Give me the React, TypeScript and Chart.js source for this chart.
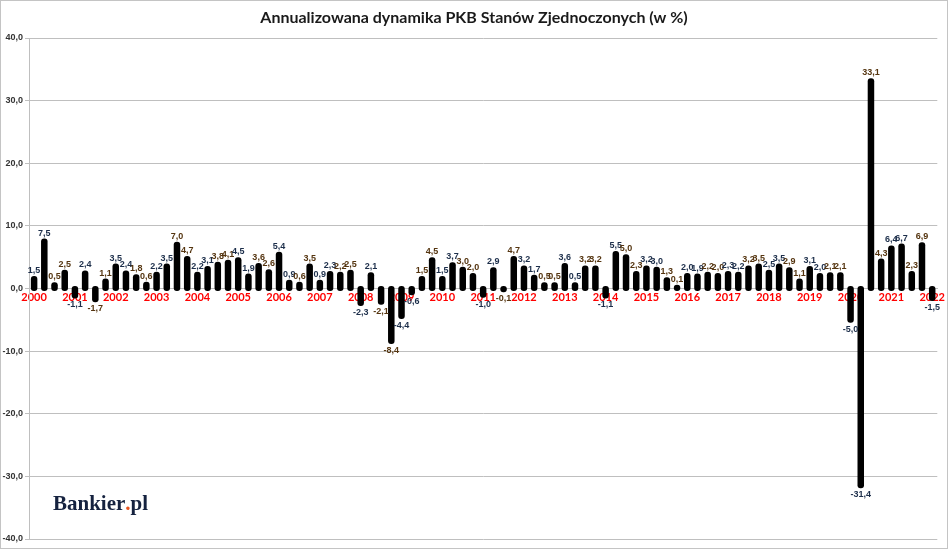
import React, { useEffect, useRef } from 'react';
import { Chart, registerables } from 'chart.js';

Chart.register(...registerables);

const chartTitle = 'Annualizowana dynamika PKB Stanów Zjednoczonych (w %)';
const yearLabels = [
  '2000', '2001', '2002', '2003', '2004', '2005', '2006', '2007', '2008', '2009', '2010', '2011',
  '2012', '2013', '2014', '2015', '2016', '2017', '2018', '2019', '2020', '2021', '2022',
];
const quarterNames = ['Q1', 'Q2', 'Q3', 'Q4'];
// Annualized quarterly GDP growth (%), 2000 Q1 .. 2022 Q1
const gdpGrowth = [
  1.5, 7.5, 0.5, 2.5,
  -1.1, 2.4, -1.7, 1.1,
  3.5, 2.4, 1.8, 0.6,
  2.2, 3.5, 7.0, 4.7,
  2.2, 3.1, 3.8, 4.1,
  4.5, 1.9, 3.6, 2.6,
  5.4, 0.9, 0.6, 3.5,
  0.9, 2.3, 2.2, 2.5,
  -2.3, 2.1, -2.1, -8.4,
  -4.4, -0.6, 1.5, 4.5,
  1.5, 3.7, 3.0, 2.0,
  -1.0, 2.9, -0.1, 4.7,
  3.2, 1.7, 0.5, 0.5,
  3.6, 0.5, 3.2, 3.2,
  -1.1, 5.5, 5.0, 2.3,
  3.2, 3.0, 1.3, 0.1,
  2.0, 1.9, 2.2, 2.0,
  2.3, 2.2, 3.2, 3.5,
  2.5, 3.5, 2.9, 1.1,
  3.1, 2.0, 2.1, 2.1,
  -5.0, -31.4, 33.1, 4.3,
  6.4, 6.7, 2.3, 6.9,
  -1.5,
];
const yTicks = [-40, -30, -20, -10, 0, 10, 20, 30, 40];

const categories: string[] = [];
yearLabels.forEach((y) => quarterNames.forEach((q) => categories.push(y + ' ' + q)));
categories.length = gdpGrowth.length;

const fmt = (v: number) => v.toFixed(1).replace('.', ',');

const EXT = 3; // rounded cap extension beyond the bar ends (px)

const labelPlugin = {
  id: 'extras',
  afterDatasetsDraw(chart: any) {
    const { ctx } = chart;
    const meta = chart.getDatasetMeta(0);
    ctx.save();
    // rounded "outline" look of the bars
    ctx.fillStyle = '#000000';
    meta.data.forEach((bar: any) => {
      const top = Math.min(bar.y, bar.base) - EXT;
      const bottom = Math.max(bar.y, bar.base) + EXT;
      const w = bar.width + 1.4;
      ctx.beginPath();
      (ctx as any).roundRect(bar.x - w / 2, top, w, bottom - top, 3);
      ctx.fill();
    });
    ctx.font = 'bold 9px "Liberation Sans", Arial, sans-serif';
    ctx.textAlign = 'center';
    meta.data.forEach((bar: any, i: number) => {
      const v = gdpGrowth[i];
      const q = i % 4;
      ctx.fillStyle = q < 2 ? '#1c2e4a' : '#553510';
      if (v >= 0) {
        ctx.textBaseline = 'bottom';
        ctx.fillText(fmt(v), bar.x, bar.y - EXT - 1);
      } else {
        ctx.textBaseline = 'top';
        ctx.fillText(fmt(v), bar.x, bar.y + EXT + 2);
      }
    });
    ctx.restore();
  },
  afterDraw(chart: any) {
    const { ctx } = chart;
    ctx.save();
    ctx.fillStyle = '#1a1a1a';
    ctx.font = 'bold 16px Lato, "Open Sans", sans-serif';
    ctx.textAlign = 'center';
    ctx.textBaseline = 'middle';
    ctx.fillText(chartTitle, 473, 17);
    // logo
    ctx.textAlign = 'left';
    ctx.textBaseline = 'alphabetic';
    ctx.font = 'bold 21px "Liberation Serif", "Times New Roman", serif';
    let x = 52;
    const y = 509;
    ctx.fillStyle = '#15223f';
    ctx.fillText('Bankier', x, y);
    x += ctx.measureText('Bankier').width;
    ctx.fillStyle = '#e8541e';
    ctx.fillText('.', x, y);
    x += ctx.measureText('.').width;
    ctx.fillStyle = '#15223f';
    ctx.fillText('pl', x, y);
    ctx.restore();
  },
};

export default function App() {
  const ref = useRef<HTMLCanvasElement>(null);
  useEffect(() => {
    document.body.style.margin = '0';
    const chart = new Chart(ref.current!, {
      type: 'bar',
      data: {
        labels: categories,
        datasets: [
          {
            data: gdpGrowth,
            backgroundColor: '#000000',
            borderWidth: 0,
            categoryPercentage: 1,
            barPercentage: 0.5,
          },
        ],
      },
      options: {
        animation: false,
        responsive: false,
        maintainAspectRatio: false,
        layout: { padding: { top: 37, bottom: 9, right: 8, left: 0 } },
        plugins: {
          legend: { display: false },
          tooltip: { enabled: false },
          title: { display: false },
        },
        scales: {
          x: {
            position: { y: 0 } as any,
            offset: true,
            z: 1,
            grid: { display: false, tickLength: 0 },
            border: { display: true, color: '#bdbdbd', width: 1 },
            ticks: {
              autoSkip: false,
              maxRotation: 0,
              minRotation: 0,
              padding: 2,
              color: '#ff0000',
              font: { family: 'Lato, "Open Sans", sans-serif', weight: 'bold', size: 11 },
              callback: (_v: any, i: number) => (i % 4 === 0 ? yearLabels[i / 4] : ''),
            },
          },
          y: {
            min: -40,
            max: 40,
            afterFit: (s: any) => {
              s.width = 28;
            },
            afterBuildTicks: (s: any) => {
              s.ticks = yTicks.map((v) => ({ value: v }));
            },
            grid: { color: '#bfbfbf', lineWidth: 1, tickLength: 4 },
            border: { display: true, color: '#bfbfbf' },
            ticks: {
              padding: 2,
              color: '#333333',
              font: { family: '"Liberation Sans", Arial, sans-serif', weight: 'bold', size: 9 },
              callback: (v: any) => fmt(Number(v)),
            },
          },
        },
      },
      plugins: [labelPlugin],
    });
    return () => chart.destroy();
  }, []);
  return (
    <div
      style={{
        position: 'absolute',
        left: 0,
        top: 0,
        width: 948,
        height: 549,
        boxSizing: 'border-box',
        border: '1px solid #c4c4c4',
        background: '#fff',
      }}
    >
      <canvas ref={ref} width={946} height={547} style={{ display: 'block' }} />
    </div>
  );
}
